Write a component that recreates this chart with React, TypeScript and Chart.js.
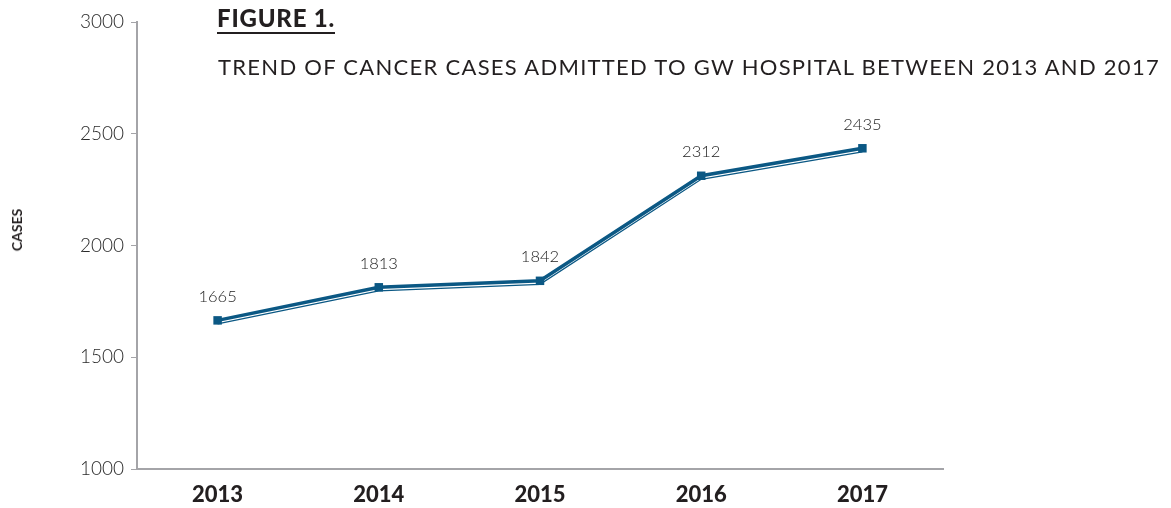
import React, { useEffect, useRef } from "react";
import { Chart, registerables } from "chart.js";

Chart.register(...registerables);

const years = ["2013", "2014", "2015", "2016", "2017"];
const cases = [1665, 1813, 1842, 2312, 2435];
const yTicksMin = 1000;
const yTicksMax = 3000;
const yStep = 500;
const figureLabel = "FIGURE 1.";
const subtitle = "TREND OF CANCER CASES ADMITTED TO GW HOSPITAL BETWEEN 2013 AND 2017";
const yTitle = "CASES";

const LINE = "#0b5884";
const AXIS = "#a4a4a8";
const TEXT = "#231f20";
const FONT = "Lato, 'Noto Sans', sans-serif";

const shadowPlugin = {
  id: "shadowOffset",
  beforeDatasetDraw(chart: any, args: any) {
    if (args.index === 1) {
      chart.ctx.save();
      chart.ctx.translate(0, 3.5);
    }
  },
  afterDatasetDraw(chart: any, args: any) {
    if (args.index === 1) chart.ctx.restore();
  },
};

const valueLabels = {
  id: "valueLabels",
  afterDatasetsDraw(chart: any) {
    const meta = chart.getDatasetMeta(0);
    const ctx = chart.ctx;
    ctx.save();
    ctx.font = `300 16.5px ${FONT}`;
    ctx.fillStyle = "#222222";
    ctx.textAlign = "center";
    ctx.textBaseline = "middle";
    meta.data.forEach((pt: any, i: number) => {
      ctx.fillText(String(cases[i]), pt.x, pt.y - 24);
    });
    ctx.restore();
  },
};

export default function App() {
  const ref = useRef<HTMLCanvasElement>(null);
  useEffect(() => {
    if (!ref.current) return;
    const chart = new Chart(ref.current, {
      type: "line",
      data: {
        labels: years,
        datasets: [
          {
            data: cases,
            borderColor: LINE,
            backgroundColor: LINE,
            borderWidth: 3.5,
            pointStyle: "rect",
            pointRadius: 6,
            pointBackgroundColor: LINE,
            pointBorderWidth: 0,
            tension: 0,
          },
          {
            data: cases,
            borderColor: LINE,
            borderWidth: 1.3,
            pointRadius: 0,
            tension: 0,
          },
        ],
      },
      options: {
        animation: false,
        responsive: false,
        maintainAspectRatio: false,
        layout: { padding: { top: 22, right: 228, left: 0, bottom: 0 } },
        plugins: { legend: { display: false }, tooltip: { enabled: false }, title: { display: false } },
        scales: {
          x: {
            offset: true,
            grid: { display: false, drawTicks: false },
            border: { display: true, color: AXIS, width: 2 },
            ticks: { color: TEXT, font: { family: FONT, size: 22, weight: "900" }, padding: 13 },
            afterFit(scale: any) {
              scale.height = 39;
            },
          },
          y: {
            min: yTicksMin,
            max: yTicksMax,
            grid: { drawOnChartArea: false, drawTicks: true, tickLength: 6, color: AXIS },
            border: { display: true, color: AXIS, width: 2 },
            ticks: {
              stepSize: yStep,
              color: "#2a2a2a",
              font: { family: FONT, size: 19, weight: "300" },
              padding: 7,
              callback: (v: any) => String(v),
            },
            afterFit(scale: any) {
              scale.width = 137;
            },
          },
        },
      },
      plugins: [shadowPlugin, valueLabels],
    } as any);
    return () => chart.destroy();
  }, []);

  return (
    <div style={{ position: "fixed", left: 0, top: 0, width: 1171, height: 508, background: "#fff" }}>
      <canvas ref={ref} width={1171} height={508} style={{ position: "absolute", left: 0, top: 0 }} />
      <div
        style={{
          position: "absolute",
          left: 16.5,
          top: 230,
          transform: "translate(-50%, -50%) rotate(-90deg)",
          fontFamily: FONT,
          fontWeight: 700,
          fontSize: 14,
          lineHeight: "16px",
          color: TEXT,
          whiteSpace: "nowrap",
        }}
      >
        {yTitle}
      </div>
      <div
        style={{
          position: "absolute",
          left: 217,
          top: 5,
          fontFamily: FONT,
          fontWeight: 900,
          fontSize: 24,
          letterSpacing: "0.8px",
          lineHeight: "25px",
          color: TEXT,
          borderBottom: `2.5px solid ${TEXT}`,
          paddingBottom: 2,
          whiteSpace: "nowrap",
        }}
      >
        {figureLabel}
      </div>
      <div
        style={{
          position: "absolute",
          left: 218,
          top: 54,
          fontFamily: FONT,
          fontWeight: 400,
          fontSize: 22,
          letterSpacing: "1.28px",
          lineHeight: "26px",
          color: TEXT,
          whiteSpace: "nowrap",
        }}
      >
        {subtitle}
      </div>
    </div>
  );
}
